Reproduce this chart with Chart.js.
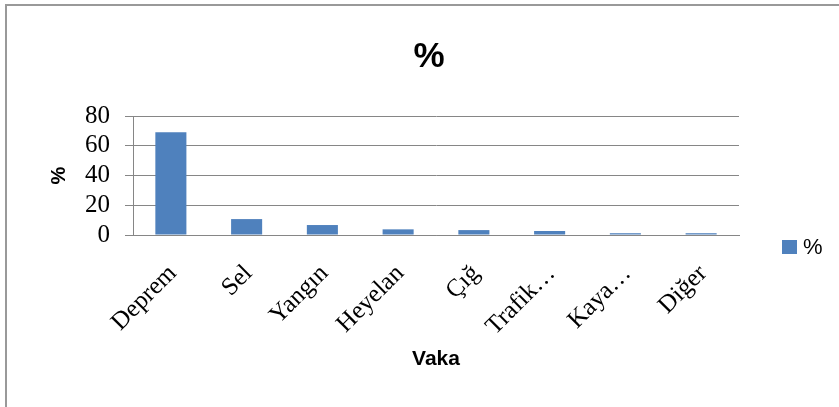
<!DOCTYPE html>
<html>
<head>
<meta charset="utf-8">
<script src="https://cdn.jsdelivr.net/npm/chart.js@4/dist/chart.umd.min.js"></script>
<style>
  body { margin: 0; background: #fff; }
  #wrap { position: relative; width: 839px; height: 407px; }
  #frame { position: absolute; left: 5px; top: 4px; right: 0; bottom: 0;
           border-top: 2px solid #999; border-left: 2px solid #999; }
  #myChart { position: absolute; left: 0; top: 0; }
</style>
</head>
<body>
<div id="wrap">
  <div id="frame"></div>
  <canvas id="myChart" width="839" height="407"></canvas>
</div>
<script>
var categories = ["Deprem", "Sel", "Yangın", "Heyelan", "Çığ", "Trafik…", "Kaya…", "Diğer"];
var percent = [69, 10.7, 6.7, 3.8, 3.3, 2.7, 1.2, 1.2];
var yTicks = [0, 20, 40, 60, 80];

var barColor = "#4F81BD";
var gridColor = "#868686";
var serif = "'Liberation Serif', 'Times New Roman', serif";
var sans = "'Liberation Sans', Arial, sans-serif";

// legend drawn by hand at the right, like the excel one
var sideLegend = {
	id: "sideLegend",
	afterDraw: function(chart) {
		var ctx = chart.ctx;
		var ds = chart.data.datasets[0];
		ctx.save();
		ctx.fillStyle = ds.backgroundColor;
		ctx.fillRect(782, 240, 15, 14);
		ctx.fillStyle = "#000";
		ctx.font = "22px " + sans;
		ctx.textBaseline = "middle";
		ctx.fillText(ds.label, 803, 248);
		ctx.restore();
	}
};

var ctx = document.getElementById("myChart");

var myChart = new Chart(ctx, {
	type: "bar",
	data: {
		labels: categories,
		datasets: [
			{
				label: "%",
				data: percent,
				backgroundColor: barColor,
				categoryPercentage: 1,
				barPercentage: 0.41
			}
		]
	},
	options: {
		responsive: false,
		animation: false,
		devicePixelRatio: 1,
		layout: { padding: { left: 19, right: 0, top: 0, bottom: 0 } },
		plugins: {
			legend: { display: false },
			tooltip: { enabled: false },
			title: {
				display: true,
				text: "%",
				color: "#000",
				font: { family: sans, size: 35, weight: "bold" },
				padding: { top: 36, bottom: 38 }
			}
		},
		scales: {
			x: {
				grid: { display: false, drawTicks: false },
				border: { display: true, color: gridColor, width: 1 },
				ticks: {
					color: "#000",
					font: { family: serif, size: 25 },
					minRotation: 45,
					maxRotation: 45,
					autoSkip: false,
					padding: 24,
					labelOffset: 2
				},
				title: {
					display: true,
					text: "Vaka",
					color: "#000",
					font: { family: sans, size: 21, weight: "bold" },
					padding: { top: 0, bottom: 35 }
				},
				afterFit: function(scale) { scale.height = 172; }
			},
			y: {
				min: 0,
				max: 80,
				afterBuildTicks: function(scale) {
					scale.ticks = yTicks.map(function(v) { return { value: v }; });
				},
				grid: { color: gridColor, lineWidth: 1, tickLength: 8 },
				border: { display: true, color: gridColor, width: 1 },
				ticks: {
					color: "#000",
					font: { family: serif, size: 25 },
					padding: 15,
					autoSkip: false
				},
				title: {
					display: true,
					text: "%",
					color: "#000",
					font: { family: sans, size: 20, weight: "bold" },
					padding: { top: 28, bottom: 0 }
				},
				afterFit: function(scale) { scale.width = 114; }
			},
			// empty box on the right keeps room for the legend
			side: {
				position: "right",
				display: true,
				grid: { display: false, drawTicks: false },
				border: { display: false },
				ticks: { display: false },
				afterFit: function(scale) { scale.width = 100; }
			}
		}
	},
	plugins: [sideLegend]
});
</script>
</body>
</html>
